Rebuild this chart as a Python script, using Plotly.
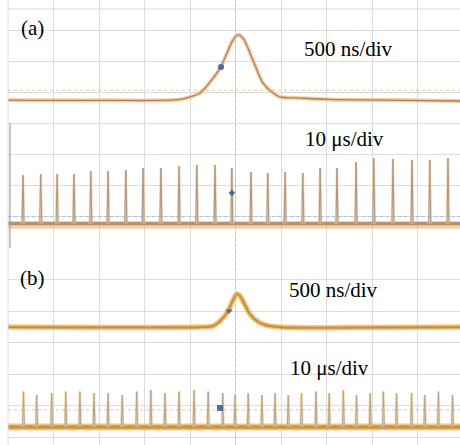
import plotly.graph_objects as go

# ---------------- data ----------------
# (a) single pulse, 500 ns/div  (time in ns, amplitude in divisions)
a_pulse_t = [-2500, -1489, -610, -500, -390, -280, -170, -93, -27, 27, 82, 159, 236, 302, 412, 489, 676, 1038, 1621, 2467]
a_pulse_v = [4.74, 4.73, 4.76, 4.84, 4.97, 5.32, 5.77, 6.26, 6.68, 6.84, 6.74, 6.26, 5.71, 5.29, 4.97, 4.84, 4.81, 4.76, 4.74, 4.71]

# (a) pulse train, 10 us/div (peak times in us, peak heights in divisions)
a_train_t = [-46.7, -42.8, -39.2, -35.5, -31.8, -28.0, -24.1, -20.3, -16.4, -12.4, -8.5, -4.5, -0.8,
             3.4, 7.1, 10.9, 14.8, 18.6, 22.3, 26.5, 30.4, 34.6, 38.8, 42.7, 46.7]
a_train_h = [2.32, 2.35, 2.35, 2.35, 2.45, 2.45, 2.48, 2.55, 2.55, 2.61, 2.65, 2.65, 2.55,
             2.42, 2.39, 2.42, 2.39, 2.55, 2.55, 2.74, 2.87, 2.84, 2.81, 2.81, 2.87]
a_train_base = 0.74

# (b) single pulse, 500 ns/div
b_pulse_t = [-2500, -1489, -390, -247, -170, -82, -27, 16, 49, 104, 159, 236, 324, 489, 1588, 2467]
b_pulse_v = [3.49, 3.48, 3.49, 3.52, 3.68, 4.00, 4.35, 4.54, 4.48, 4.19, 3.90, 3.68, 3.56, 3.49, 3.48, 3.49]

# (b) pulse train, 10 us/div
b_train_t = [-46.6, -43.7, -40.4, -37.3, -34.2, -31.1, -28.0, -24.9, -21.7, -18.6, -15.5, -12.4, -9.1, -6.0, -2.8,
             -0.1, 2.8, 5.8, 8.7, 11.6, 14.5, 17.7, 20.6, 23.7, 26.6, 29.6, 32.5, 35.4, 38.7, 41.6, 44.6, 47.7]
b_train_h = [1.44, 1.33, 1.39, 1.44, 1.44, 1.39, 1.39, 1.33, 1.44, 1.49, 1.39, 1.44, 1.49, 1.44, 1.39,
             1.33, 1.39, 1.33, 1.39, 1.33, 1.39, 1.44, 1.39, 1.49, 1.33, 1.39, 1.44, 1.39, 1.39, 1.33, 1.44, 1.33]
b_train_base = 0.32

# cursor markers
a_cursor_pulse = (-159, 5.81)
a_cursor_train = (-0.8, 1.74)
b_cursor_pulse = (-71, 4.00)
b_cursor_train = (-3.4, 0.92)

labels = ["(a)", "500 ns/div", "10 μs/div", "(b)", "500 ns/div", "10 μs/div"]

# ---------------- figure ----------------
W, H = 460, 445
fig = go.Figure()

def px_x(p):
    return p / W

def px_y(p):
    return 1 - p / H

X_DOM = [8 / W, 1]
NS_RANGE = [-2500, 2467]
US_RANGE = [-50, 49.34]
A_DOM = [px_y(247), 1]
B_DOM = [0, px_y(248)]
A_RANGE = [0, 247 / 31]
B_RANGE = [-8 / 31.5, 6]

grid = "rgb(220,220,220)"
cursor_col = "#4a6a9a"


def spikes(ts, hs, base, half=0.3):
    xs, ys = [], []
    for t, h in zip(ts, hs):
        xs += [t - half, t, t + half, None]
        ys += [base, h, base, None]
    return xs, ys


# --- panel (a) ---
fig.add_trace(go.Scatter(x=a_pulse_t, y=a_pulse_v, mode="lines", line_shape="spline",
                         line=dict(color="rgba(242,185,125,0.7)", width=4),
                         xaxis="x", yaxis="y", hoverinfo="skip"))
fig.add_trace(go.Scatter(x=a_pulse_t, y=a_pulse_v, mode="lines", line_shape="spline",
                         line=dict(color="#b08060", width=1.3),
                         xaxis="x", yaxis="y", hoverinfo="skip"))
fig.add_trace(go.Scatter(x=[a_cursor_pulse[0]], y=[a_cursor_pulse[1]], mode="markers",
                         marker=dict(color=cursor_col, size=6), xaxis="x", yaxis="y"))

fig.add_trace(go.Scatter(x=[US_RANGE[0], US_RANGE[1]], y=[a_train_base - 0.04, a_train_base - 0.04], mode="lines",
                         line=dict(color="rgba(245,190,135,0.75)", width=7),
                         xaxis="x2", yaxis="y", hoverinfo="skip"))
fig.add_trace(go.Scatter(x=[US_RANGE[0], US_RANGE[1]], y=[a_train_base + 0.02, a_train_base + 0.02], mode="lines",
                         line=dict(color="#b8916c", width=3.5),
                         xaxis="x2", yaxis="y", hoverinfo="skip"))
sx, sy = spikes(a_train_t, a_train_h, a_train_base, half=0.22)
fig.add_trace(go.Scatter(x=sx, y=sy, mode="lines",
                         line=dict(color="rgba(245,195,145,0.7)", width=2.5),
                         xaxis="x2", yaxis="y", hoverinfo="skip"))
fig.add_trace(go.Scatter(x=sx, y=sy, mode="lines",
                         line=dict(color="#a89888", width=1),
                         xaxis="x2", yaxis="y", hoverinfo="skip"))
fig.add_trace(go.Scatter(x=[a_cursor_train[0]], y=[a_cursor_train[1]], mode="markers",
                         marker=dict(color=cursor_col, size=5, symbol="diamond"), xaxis="x2", yaxis="y"))

# --- panel (b) ---
fig.add_trace(go.Scatter(x=b_pulse_t, y=b_pulse_v, mode="lines", line_shape="spline",
                         line=dict(color="rgba(240,180,95,0.8)", width=5.5),
                         xaxis="x3", yaxis="y2", hoverinfo="skip"))
fig.add_trace(go.Scatter(x=b_pulse_t, y=b_pulse_v, mode="lines", line_shape="spline",
                         line=dict(color="#c98f3e", width=2.2),
                         xaxis="x3", yaxis="y2", hoverinfo="skip"))
fig.add_trace(go.Scatter(x=[b_cursor_pulse[0]], y=[b_cursor_pulse[1]], mode="markers",
                         marker=dict(color=cursor_col, size=6, symbol="triangle-down"), xaxis="x3", yaxis="y2"))

fig.add_trace(go.Scatter(x=[US_RANGE[0], US_RANGE[1]], y=[b_train_base, b_train_base], mode="lines",
                         line=dict(color="rgba(240,182,100,0.8)", width=7),
                         xaxis="x4", yaxis="y2", hoverinfo="skip"))
fig.add_trace(go.Scatter(x=[US_RANGE[0], US_RANGE[1]], y=[b_train_base, b_train_base], mode="lines",
                         line=dict(color="#c9943f", width=3.5),
                         xaxis="x4", yaxis="y2", hoverinfo="skip"))
sx, sy = spikes(b_train_t, b_train_h, b_train_base, half=0.2)
fig.add_trace(go.Scatter(x=sx, y=sy, mode="lines",
                         line=dict(color="rgba(245,200,140,0.7)", width=2.5),
                         xaxis="x4", yaxis="y2", hoverinfo="skip"))
fig.add_trace(go.Scatter(x=sx, y=sy, mode="lines",
                         line=dict(color="#b4a690", width=1),
                         xaxis="x4", yaxis="y2", hoverinfo="skip"))
fig.add_trace(go.Scatter(x=[b_cursor_train[0]], y=[b_cursor_train[1]], mode="markers",
                         marker=dict(color=cursor_col, size=6, symbol="square"), xaxis="x4", yaxis="y2"))

# ---------------- axes ----------------
common_grid = dict(showgrid=True, gridcolor=grid, gridwidth=1, zeroline=False,
                   showticklabels=False, ticks="", showline=False, fixedrange=True)
fig.update_layout(
    xaxis=dict(domain=X_DOM, range=NS_RANGE, tick0=0, dtick=500, anchor="y", **common_grid),
    xaxis2=dict(domain=X_DOM, range=US_RANGE, overlaying="x", anchor="y", showgrid=False,
                zeroline=False, showticklabels=False, showline=False),
    xaxis3=dict(domain=X_DOM, range=NS_RANGE, tick0=0, dtick=500, anchor="y2", **common_grid),
    xaxis4=dict(domain=X_DOM, range=US_RANGE, overlaying="x3", anchor="y2", showgrid=False,
                zeroline=False, showticklabels=False, showline=False),
    yaxis=dict(domain=A_DOM, range=A_RANGE, tick0=0, dtick=1, anchor="x", **common_grid),
    yaxis2=dict(domain=B_DOM, range=B_RANGE, tick0=0, dtick=1, anchor="x3", **common_grid),
)

# reference / cursor lines and frame details
shapes = [
    dict(type="line", xref="paper", yref="paper", x0=px_x(8), x1=1, y0=px_y(9), y1=px_y(9),
         line=dict(color=grid, width=1)),
    dict(type="line", xref="paper", yref="paper", x0=px_x(8), x1=px_x(8), y0=0, y1=1,
         line=dict(color=grid, width=1)),
    dict(type="line", xref="paper", yref="paper", x0=px_x(10), x1=px_x(10), y0=px_y(248), y1=px_y(123),
         line=dict(color="rgb(160,160,160)", width=1.2)),
    dict(type="line", xref="paper", yref="y", x0=px_x(8), x1=1, y0=5.06, y1=5.06,
         line=dict(color="rgba(225,160,110,0.6)", width=1, dash="dot")),
    dict(type="line", xref="paper", yref="y", x0=px_x(8), x1=1, y0=0.98, y1=0.98,
         line=dict(color="rgba(130,170,225,0.6)", width=1, dash="dot")),
    dict(type="line", xref="paper", yref="y2", x0=px_x(8), x1=1, y0=0.86, y1=0.86,
         line=dict(color="rgba(160,160,160,0.6)", width=1, dash="dot")),
    dict(type="line", xref="x", yref="paper", x0=0, x1=0, y0=A_DOM[0], y1=1,
         line=dict(color="rgba(185,185,185,0.7)", width=1, dash="dot")),
    dict(type="line", xref="x3", yref="paper", x0=0, x1=0, y0=0, y1=B_DOM[1],
         line=dict(color="rgba(185,185,185,0.7)", width=1, dash="dot")),
]
fig.update_layout(shapes=shapes)

font = dict(family="Liberation Serif, Times New Roman, serif", size=21, color="black")
pos = [(32, 28), (348, 49), (344, 139), (32, 278), (333, 290), (329, 368)]
fig.update_layout(annotations=[
    dict(text=t, x=px_x(px), y=px_y(py), xref="paper", yref="paper", showarrow=False,
         xanchor="center", yanchor="middle", font=font)
    for t, (px, py) in zip(labels, pos)
])

fig.update_layout(width=W, height=H, margin=dict(l=0, r=0, t=0, b=0),
                  paper_bgcolor="white", plot_bgcolor="white", showlegend=False)

fig.write_html("out.html")
